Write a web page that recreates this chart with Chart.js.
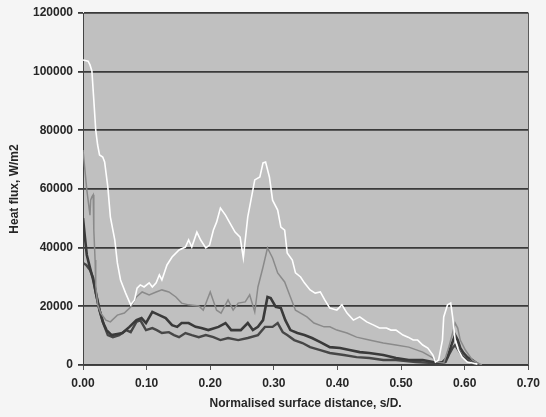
<!DOCTYPE html>
<html>
<head>
<meta charset="utf-8">
<script src="https://cdn.jsdelivr.net/npm/chart.js@4/dist/chart.umd.min.js"></script>
<style>
  html, body { margin: 0; padding: 0; background: #f5f5f5; }
  canvas { display: block; }
</style>
</head>
<body>
<canvas id="c" width="546" height="417"></canvas>
<script>
// Surface distance s/D and heat flux (W/m2) for each measured trace.
const sWhite = [0, 0.008, 0.011, 0.014, 0.017, 0.020, 0.023, 0.026, 0.031, 0.034, 0.039, 0.043, 0.050, 0.054, 0.059, 0.067, 0.075, 0.081, 0.085, 0.090, 0.096, 0.104, 0.109, 0.115, 0.120, 0.124, 0.132, 0.140, 0.151, 0.161, 0.166, 0.171, 0.179, 0.185, 0.193, 0.199, 0.205, 0.210, 0.216, 0.224, 0.231, 0.239, 0.247, 0.252, 0.259, 0.264, 0.270, 0.278, 0.283, 0.287, 0.293, 0.298, 0.306, 0.311, 0.317, 0.321, 0.329, 0.334, 0.342, 0.348, 0.357, 0.365, 0.373, 0.380, 0.388, 0.399, 0.407, 0.415, 0.425, 0.435, 0.446, 0.457, 0.466, 0.477, 0.484, 0.492, 0.503, 0.511, 0.519, 0.526, 0.534, 0.542, 0.550, 0.554, 0.559, 0.565, 0.567, 0.573, 0.578, 0.581, 0.585, 0.590, 0.596, 0.604, 0.612, 0.620];
const qWhite = [104000, 103600, 102300, 100200, 90300, 80100, 75000, 71600, 70900, 69200, 60700, 50500, 42600, 34800, 29000, 24500, 20500, 22200, 26200, 27300, 26600, 28000, 26600, 28000, 30700, 29000, 34100, 36800, 39200, 40200, 42600, 40200, 45300, 42600, 39900, 40900, 46000, 48700, 53500, 51100, 48400, 45300, 43600, 36500, 50500, 56200, 63100, 64100, 68900, 69200, 64100, 56200, 52800, 47000, 46000, 38200, 35800, 31400, 30000, 28000, 25600, 24500, 24900, 22200, 19400, 18700, 20500, 17700, 15300, 16400, 14700, 13600, 12600, 12600, 11900, 11900, 10200, 9500, 8500, 8500, 6800, 5800, 3400, 1000, 1700, 8500, 16400, 20500, 21100, 16400, 8500, 5100, 2700, 1000, 700, 300];

const sGrey = [0, 0.003, 0.006, 0.009, 0.011, 0.012, 0.014, 0.016, 0.017, 0.019, 0.020, 0.023, 0.028, 0.036, 0.043, 0.054, 0.065, 0.075, 0.084, 0.093, 0.104, 0.115, 0.124, 0.135, 0.146, 0.155, 0.166, 0.182, 0.189, 0.200, 0.210, 0.217, 0.228, 0.236, 0.244, 0.255, 0.262, 0.270, 0.275, 0.283, 0.290, 0.298, 0.306, 0.317, 0.326, 0.334, 0.342, 0.352, 0.363, 0.379, 0.388, 0.399, 0.415, 0.430, 0.450, 0.472, 0.492, 0.512, 0.534, 0.550, 0.557, 0.567, 0.575, 0.581, 0.585, 0.589, 0.593, 0.601, 0.612, 0.620, 0.627];
const qGrey = [73300, 66500, 59700, 54500, 51100, 56200, 57300, 58000, 46000, 35800, 27300, 20500, 17700, 15300, 14700, 17000, 17700, 19800, 23200, 24900, 23900, 24900, 25600, 24900, 23200, 21100, 20500, 20100, 18700, 24900, 18700, 17700, 22200, 18700, 21100, 21500, 23900, 18100, 26600, 33400, 39900, 36500, 31400, 28300, 23200, 18700, 17700, 16400, 14300, 13000, 13000, 11900, 10900, 9500, 8500, 7500, 6800, 6100, 4400, 2400, 1000, 700, 6100, 10900, 14300, 12600, 8500, 5100, 1700, 700, 0];

const sDarkA = [0, 0.003, 0.006, 0.011, 0.016, 0.020, 0.026, 0.031, 0.037, 0.045, 0.054, 0.062, 0.073, 0.084, 0.092, 0.099, 0.109, 0.120, 0.130, 0.140, 0.148, 0.155, 0.166, 0.177, 0.186, 0.197, 0.213, 0.224, 0.233, 0.248, 0.259, 0.267, 0.275, 0.283, 0.290, 0.295, 0.303, 0.311, 0.318, 0.326, 0.337, 0.348, 0.360, 0.373, 0.388, 0.404, 0.419, 0.435, 0.450, 0.472, 0.492, 0.512, 0.534, 0.550, 0.557, 0.565, 0.573, 0.578, 0.582, 0.585, 0.589, 0.593, 0.598, 0.604, 0.612, 0.616, 0.621];
const qDarkA = [50100, 43600, 37500, 33100, 29000, 24900, 18700, 14700, 11900, 10200, 10600, 10900, 13000, 15300, 16000, 14300, 18100, 17000, 16000, 13600, 13000, 14300, 14300, 13000, 12600, 11900, 13000, 14300, 11900, 11900, 14300, 11900, 13000, 15300, 23200, 22800, 19800, 19400, 15300, 11900, 10900, 10200, 9200, 7800, 6100, 5800, 5100, 4400, 4100, 3400, 2400, 1700, 1700, 1000, 700, 1000, 2700, 6100, 8500, 10200, 8500, 5800, 4100, 2700, 1700, 1000, 300];

const sDarkB = [0, 0.005, 0.011, 0.016, 0.020, 0.026, 0.033, 0.039, 0.047, 0.057, 0.068, 0.075, 0.084, 0.090, 0.099, 0.109, 0.116, 0.124, 0.135, 0.143, 0.151, 0.161, 0.171, 0.182, 0.193, 0.205, 0.216, 0.228, 0.244, 0.259, 0.275, 0.286, 0.298, 0.306, 0.314, 0.321, 0.332, 0.345, 0.357, 0.373, 0.388, 0.410, 0.430, 0.450, 0.472, 0.492, 0.523, 0.550, 0.559, 0.570, 0.575, 0.581, 0.585, 0.590, 0.598, 0.609, 0.616];
const qDarkB = [34800, 34100, 32400, 29700, 24500, 18700, 13600, 10200, 9500, 10200, 11900, 11200, 14700, 15300, 11900, 12600, 11900, 10900, 11200, 10200, 9500, 10900, 10200, 9500, 10200, 9500, 8500, 9200, 8500, 9200, 10200, 13000, 13000, 14300, 11200, 10200, 8500, 7500, 6100, 5100, 4100, 3400, 2700, 2400, 1700, 1700, 1000, 700, 300, 1000, 3400, 5800, 6800, 5100, 2700, 1000, 300];

// Axis ranges and tick steps
const xTicks = [0, 0.7, 0.1];
const yTicks = [0, 120000, 20000];

const pts = (s, q) => s.map((v, i) => ({ x: v, y: q[i] }));

const plotFrame = {
  id: 'plotFrame',
  beforeDraw(chart) {
    const { ctx, chartArea: a } = chart;
    ctx.save();
    ctx.fillStyle = '#f5f5f5';
    ctx.fillRect(0, 0, chart.width, chart.height);
    ctx.fillStyle = '#c0c0c0';
    ctx.fillRect(a.left, a.top, a.right - a.left, a.bottom - a.top);
    ctx.restore();
  },
  afterDraw(chart) {
    const { ctx, chartArea: a } = chart;
    ctx.save();
    ctx.strokeStyle = '#5a5a5a';
    ctx.lineWidth = 1;
    ctx.beginPath();
    ctx.moveTo(Math.round(a.right) + 0.5, a.top);
    ctx.lineTo(Math.round(a.right) + 0.5, a.bottom);
    ctx.stroke();
    ctx.restore();
  }
};

const line = (data, color, width) => ({
  data, borderColor: color, borderWidth: width, pointRadius: 0,
  showLine: true, fill: false, tension: 0
});

const labelFont = { family: 'Liberation Sans', weight: 'bold', size: 12 };

new Chart(document.getElementById('c'), {
  type: 'scatter',
  data: {
    datasets: [
      line(pts(sWhite, qWhite), '#ffffff', 1.6),
      line(pts(sGrey, qGrey), '#8a8a8a', 1.5),
      line(pts(sDarkA, qDarkA), '#3a3a3a', 2.6),
      line(pts(sDarkB, qDarkB), '#474747', 2.4)
    ]
  },
  options: {
    responsive: false,
    animation: false,
    devicePixelRatio: 1,
    layout: { padding: { left: 0, right: 12, top: 13, bottom: 0 } },
    plugins: { legend: { display: false }, tooltip: { enabled: false } },
    scales: {
      x: {
        type: 'linear',
        min: xTicks[0], max: xTicks[1],
        afterFit(scale) { scale.height = 52; },
        ticks: {
          stepSize: xTicks[2],
          padding: 6,
          color: '#262626',
          font: labelFont,
          callback: v => v.toFixed(2)
        },
        grid: { drawOnChartArea: false, drawTicks: true, tickLength: 5, color: '#555' },
        border: { display: true, color: '#444', width: 1 },
        title: {
          display: true,
          text: 'Normalised surface distance, s/D.',
          color: '#262626',
          font: labelFont,
          padding: { top: 0, bottom: 6 }
        }
      },
      y: {
        min: yTicks[0], max: yTicks[1],
        afterFit(scale) { scale.width = 83; },
        ticks: {
          stepSize: yTicks[2],
          padding: 5,
          color: '#262626',
          font: labelFont,
          callback: v => String(v)
        },
        grid: { color: '#3a3a3a', lineWidth: 1.8, drawTicks: true, tickLength: 5 },
        border: { display: true, color: '#444', width: 1 },
        title: {
          display: true,
          text: 'Heat flux, W/m2',
          color: '#262626',
          font: labelFont,
          padding: { top: 7, bottom: 0 }
        }
      }
    }
  },
  plugins: [plotFrame]
});
</script>
</body>
</html>
